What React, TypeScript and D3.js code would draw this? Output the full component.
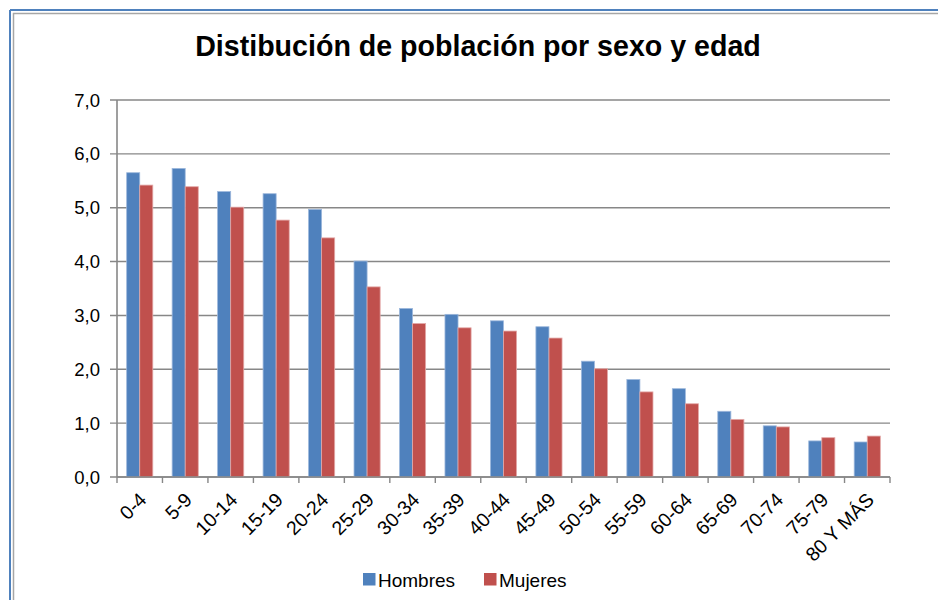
import React, { useEffect, useRef } from 'react';
import * as d3 from 'd3';

const categories = ['0-4', '5-9', '10-14', '15-19', '20-24', '25-29', '30-34', '35-39', '40-44', '45-49', '50-54', '55-59', '60-64', '65-69', '70-74', '75-79', '80 Y MÁS'];
const hombres = [5.65, 5.73, 5.30, 5.26, 4.97, 4.01, 3.13, 3.02, 2.90, 2.79, 2.15, 1.81, 1.64, 1.22, 0.95, 0.67, 0.65];
const mujeres = [5.42, 5.39, 5.01, 4.77, 4.44, 3.53, 2.85, 2.77, 2.71, 2.58, 2.01, 1.58, 1.36, 1.07, 0.93, 0.73, 0.76];
const seriesNames = ['Hombres', 'Mujeres'];
const seriesColors = ['#4F81BD', '#C0504D'];
const seriesStrokes = ['#9DB8DC', '#E3A9A8'];
const yTicks = [0, 1, 2, 3, 4, 5, 6, 7];

const FONT = '"Liberation Sans", Arial, sans-serif';

const App = () => {
  const svgRef = useRef<SVGSVGElement>(null);

  useEffect(() => {
    const svg = d3.select(svgRef.current);
    svg.selectAll('*').remove();
    const margin = { top: 100, left: 117, right: 48, bottom: 123 };
    const width = 938;
    const height = 600;

    // frame
    svg.append('line').attr('x1', 10).attr('y1', 10).attr('x2', 938).attr('y2', 10)
      .attr('stroke', '#4F81BD').attr('stroke-width', 2);
    svg.append('line').attr('x1', 10).attr('y1', 10).attr('x2', 10).attr('y2', 600)
      .attr('stroke', '#4F81BD').attr('stroke-width', 2);
    svg.append('line').attr('x1', 13).attr('y1', 13.5).attr('x2', 938).attr('y2', 13.5)
      .attr('stroke', '#A6A6A6').attr('stroke-width', 1.5);
    svg.append('line').attr('x1', 13.5).attr('y1', 13).attr('x2', 13.5).attr('y2', 600)
      .attr('stroke', '#A6A6A6').attr('stroke-width', 1.5);

    svg.append('text')
      .attr('x', 478).attr('y', 56)
      .attr('text-anchor', 'middle')
      .attr('font-family', FONT).attr('font-weight', 'bold').attr('font-size', 28.6)
      .text('Distibución de población por sexo y edad');

    const x0 = d3.scaleBand()
      .domain(categories)
      .range([margin.left, width - margin.right])
      .paddingInner(0).paddingOuter(0);

    const x1 = d3.scaleBand()
      .domain(seriesNames)
      .range([0, x0.bandwidth()])
      .paddingInner(0).paddingOuter(0.74);

    const y = d3.scaleLinear()
      .domain([0, 7])
      .range([height - margin.bottom, margin.top]);

    const grid = svg.append('g');
    yTicks.forEach(t => {
      grid.append('line')
        .attr('x1', margin.left - 7).attr('x2', width - margin.right)
        .attr('y1', y(t)).attr('y2', y(t))
        .attr('stroke', '#878787').attr('stroke-width', 1.4);
      grid.append('text')
        .attr('x', 100).attr('y', y(t) + 6.5)
        .attr('text-anchor', 'end')
        .attr('font-family', FONT).attr('font-size', 18.5)
        .text(d3.format('.1f')(t).replace('.', ','));
    });

    const data = [hombres, mujeres];
    data.forEach((vals, si) => {
      svg.append('g').selectAll('rect')
        .data(vals)
        .enter().append('rect')
        .attr('x', (d, i) => (x0(categories[i]) as number) + (x1(seriesNames[si]) as number))
        .attr('y', d => y(d))
        .attr('width', x1.bandwidth())
        .attr('height', d => y(0) - y(d))
        .attr('fill', seriesColors[si])
        .attr('stroke', seriesStrokes[si])
        .attr('stroke-width', 0.8);
    });

    // axes
    svg.append('line')
      .attr('x1', margin.left).attr('x2', margin.left)
      .attr('y1', y(7)).attr('y2', y(0))
      .attr('stroke', '#878787').attr('stroke-width', 1.6);
    svg.append('line')
      .attr('x1', margin.left).attr('x2', width - margin.right)
      .attr('y1', y(0)).attr('y2', y(0))
      .attr('stroke', '#878787').attr('stroke-width', 1.6);

    const boundaries = categories.map(c => x0(c) as number).concat([width - margin.right]);
    boundaries.forEach(bx => {
      svg.append('line')
        .attr('x1', bx).attr('x2', bx)
        .attr('y1', y(0)).attr('y2', y(0) + 6)
        .attr('stroke', '#878787').attr('stroke-width', 1.4);
    });

    categories.forEach(c => {
      const cx = (x0(c) as number) + x0.bandwidth() / 2 + 8;
      svg.append('text')
        .attr('transform', `translate(${cx},${y(0) + 24}) rotate(-45)`)
        .attr('text-anchor', 'end')
        .attr('font-family', FONT).attr('font-size', 19.5)
        .text(c);
    });

    // legend
    const legendItems = [{ x: 363, i: 0 }, { x: 484, i: 1 }];
    legendItems.forEach(li => {
      svg.append('rect')
        .attr('x', li.x).attr('y', 573).attr('width', 12.5).attr('height', 12.5)
        .attr('fill', seriesColors[li.i]);
      svg.append('text')
        .attr('x', li.x + 15).attr('y', 586.5)
        .attr('font-family', FONT).attr('font-size', 19)
        .text(seriesNames[li.i]);
    });
  }, []);

  return (
    <svg ref={svgRef} width={938} height={600}
      style={{ position: 'absolute', left: 0, top: 0, background: '#fff' }} />
  );
};

export default App;
